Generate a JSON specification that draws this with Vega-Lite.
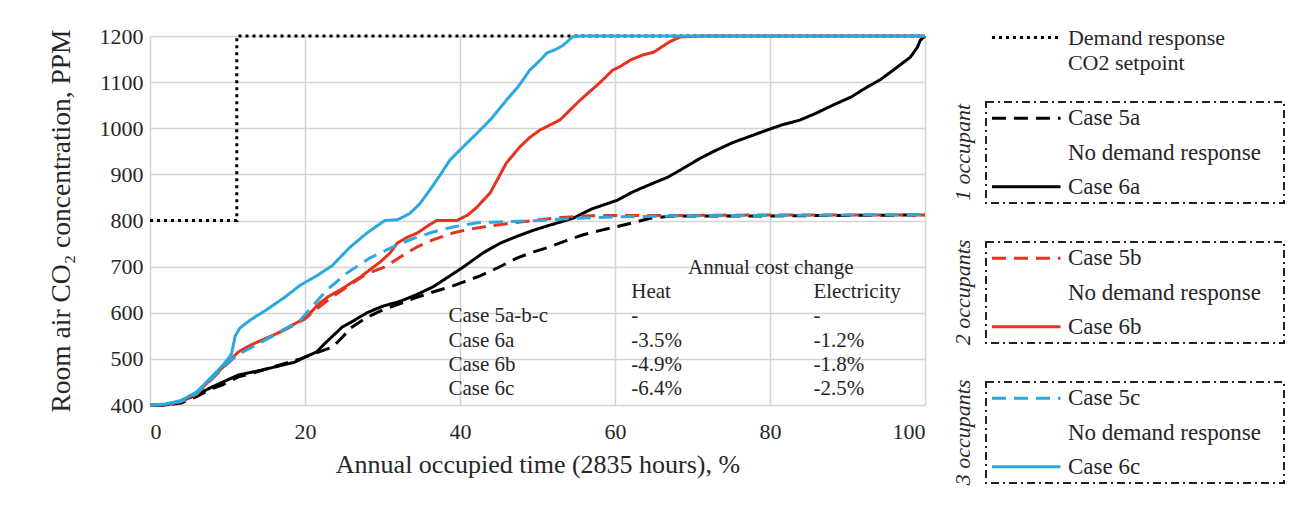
{
  "$schema": "https://vega.github.io/schema/vega-lite/v6.json",
  "background": "white",
  "padding": {"left": 47, "top": 25, "right": 5, "bottom": 5},
  "config": {
    "font": "Times New Roman",
    "view": {"stroke": null},
    "axis": {"labelFont": "Times New Roman", "titleFont": "Times New Roman", "labelFontSize": 22, "titleFontSize": 26, "titleFontWeight": "normal", "labelColor": "#262626", "titleColor": "#262626", "gridColor": "#d4d4d4", "gridWidth": 1.5, "domain": false, "ticks": false},
    "text": {"color": "#262626", "font": "Times New Roman", "fontStyle": "normal", "fontWeight": "normal"},
    "header": {"labelFont": "Times New Roman", "labelFontSize": 22, "labelFontStyle": "italic", "labelAngle": -90, "labelColor": "#262626", "labelPadding": 0, "labelOrient": "left"}
  },
  "datasets": {
    "curves": [
      {"series": "Demand response CO2 setpoint", "x": 0, "y": 800},
      {"series": "Demand response CO2 setpoint", "x": 11.2, "y": 800},
      {"series": "Demand response CO2 setpoint", "x": 11.2, "y": 1200},
      {"series": "Demand response CO2 setpoint", "x": 100, "y": 1200},
      {"series": "Case 5a", "x": 0, "y": 400}, {"series": "Case 5a", "x": 2, "y": 400}, {"series": "Case 5a", "x": 4, "y": 404}, {"series": "Case 5a", "x": 6, "y": 418}, {"series": "Case 5a", "x": 8, "y": 436}, {"series": "Case 5a", "x": 9.3, "y": 443}, {"series": "Case 5a", "x": 11.4, "y": 461}, {"series": "Case 5a", "x": 13, "y": 468}, {"series": "Case 5a", "x": 15, "y": 478}, {"series": "Case 5a", "x": 17, "y": 488}, {"series": "Case 5a", "x": 19.4, "y": 500}, {"series": "Case 5a", "x": 21, "y": 510}, {"series": "Case 5a", "x": 23.6, "y": 526}, {"series": "Case 5a", "x": 25, "y": 550}, {"series": "Case 5a", "x": 25.8, "y": 566}, {"series": "Case 5a", "x": 28, "y": 590}, {"series": "Case 5a", "x": 30, "y": 606}, {"series": "Case 5a", "x": 32.3, "y": 620}, {"series": "Case 5a", "x": 34.5, "y": 634}, {"series": "Case 5a", "x": 36.5, "y": 645}, {"series": "Case 5a", "x": 38.7, "y": 656}, {"series": "Case 5a", "x": 40.5, "y": 667}, {"series": "Case 5a", "x": 42.6, "y": 680}, {"series": "Case 5a", "x": 44.8, "y": 697}, {"series": "Case 5a", "x": 47.4, "y": 719}, {"series": "Case 5a", "x": 49.5, "y": 732}, {"series": "Case 5a", "x": 51.6, "y": 743}, {"series": "Case 5a", "x": 53.8, "y": 757}, {"series": "Case 5a", "x": 55.9, "y": 769}, {"series": "Case 5a", "x": 58, "y": 778}, {"series": "Case 5a", "x": 60.3, "y": 787}, {"series": "Case 5a", "x": 62.5, "y": 796}, {"series": "Case 5a", "x": 64.5, "y": 805}, {"series": "Case 5a", "x": 67, "y": 809}, {"series": "Case 5a", "x": 70, "y": 810}, {"series": "Case 5a", "x": 80, "y": 810}, {"series": "Case 5a", "x": 90, "y": 811}, {"series": "Case 5a", "x": 100, "y": 812},
      {"series": "Case 6a", "x": 0, "y": 400}, {"series": "Case 6a", "x": 2, "y": 400}, {"series": "Case 6a", "x": 3.6, "y": 406}, {"series": "Case 6a", "x": 6, "y": 422}, {"series": "Case 6a", "x": 8, "y": 439}, {"series": "Case 6a", "x": 11.4, "y": 465}, {"series": "Case 6a", "x": 14.5, "y": 476}, {"series": "Case 6a", "x": 18.7, "y": 493}, {"series": "Case 6a", "x": 20, "y": 504}, {"series": "Case 6a", "x": 21.5, "y": 515}, {"series": "Case 6a", "x": 22.6, "y": 534}, {"series": "Case 6a", "x": 24.8, "y": 569}, {"series": "Case 6a", "x": 26.2, "y": 582}, {"series": "Case 6a", "x": 28, "y": 600}, {"series": "Case 6a", "x": 30, "y": 614}, {"series": "Case 6a", "x": 32.3, "y": 625}, {"series": "Case 6a", "x": 34.5, "y": 640}, {"series": "Case 6a", "x": 36.5, "y": 656}, {"series": "Case 6a", "x": 38.7, "y": 680}, {"series": "Case 6a", "x": 40.5, "y": 700}, {"series": "Case 6a", "x": 43, "y": 730}, {"series": "Case 6a", "x": 45.2, "y": 751}, {"series": "Case 6a", "x": 47.4, "y": 766}, {"series": "Case 6a", "x": 49.5, "y": 779}, {"series": "Case 6a", "x": 51.6, "y": 790}, {"series": "Case 6a", "x": 54.6, "y": 805}, {"series": "Case 6a", "x": 57, "y": 825}, {"series": "Case 6a", "x": 60.3, "y": 844}, {"series": "Case 6a", "x": 62.3, "y": 862}, {"series": "Case 6a", "x": 64.5, "y": 878}, {"series": "Case 6a", "x": 66.7, "y": 893}, {"series": "Case 6a", "x": 68.5, "y": 910}, {"series": "Case 6a", "x": 71, "y": 935}, {"series": "Case 6a", "x": 73, "y": 952}, {"series": "Case 6a", "x": 75.2, "y": 969}, {"series": "Case 6a", "x": 77.5, "y": 983}, {"series": "Case 6a", "x": 79.6, "y": 996}, {"series": "Case 6a", "x": 81.5, "y": 1007}, {"series": "Case 6a", "x": 83.9, "y": 1018}, {"series": "Case 6a", "x": 86, "y": 1033}, {"series": "Case 6a", "x": 88.1, "y": 1050}, {"series": "Case 6a", "x": 90.5, "y": 1068}, {"series": "Case 6a", "x": 92.5, "y": 1089}, {"series": "Case 6a", "x": 94.3, "y": 1106}, {"series": "Case 6a", "x": 95.9, "y": 1126}, {"series": "Case 6a", "x": 97, "y": 1140}, {"series": "Case 6a", "x": 98.1, "y": 1154}, {"series": "Case 6a", "x": 99, "y": 1175}, {"series": "Case 6a", "x": 99.4, "y": 1191}, {"series": "Case 6a", "x": 100, "y": 1200},
      {"series": "Case 5b", "x": 0, "y": 400}, {"series": "Case 5b", "x": 2, "y": 401}, {"series": "Case 5b", "x": 4, "y": 407}, {"series": "Case 5b", "x": 6, "y": 423}, {"series": "Case 5b", "x": 7.5, "y": 448}, {"series": "Case 5b", "x": 9.7, "y": 485}, {"series": "Case 5b", "x": 11.4, "y": 512}, {"series": "Case 5b", "x": 13, "y": 528}, {"series": "Case 5b", "x": 15, "y": 543}, {"series": "Case 5b", "x": 16.5, "y": 555}, {"series": "Case 5b", "x": 18, "y": 568}, {"series": "Case 5b", "x": 20, "y": 587}, {"series": "Case 5b", "x": 22, "y": 615}, {"series": "Case 5b", "x": 24, "y": 640}, {"series": "Case 5b", "x": 26.2, "y": 665}, {"series": "Case 5b", "x": 28, "y": 685}, {"series": "Case 5b", "x": 30, "y": 697}, {"series": "Case 5b", "x": 31.5, "y": 712}, {"series": "Case 5b", "x": 32.3, "y": 721}, {"series": "Case 5b", "x": 34.5, "y": 743}, {"series": "Case 5b", "x": 36.5, "y": 758}, {"series": "Case 5b", "x": 39.1, "y": 773}, {"series": "Case 5b", "x": 40.9, "y": 780}, {"series": "Case 5b", "x": 43, "y": 786}, {"series": "Case 5b", "x": 46, "y": 793}, {"series": "Case 5b", "x": 49.4, "y": 800}, {"series": "Case 5b", "x": 52, "y": 805}, {"series": "Case 5b", "x": 55.9, "y": 810}, {"series": "Case 5b", "x": 60, "y": 811}, {"series": "Case 5b", "x": 70, "y": 811}, {"series": "Case 5b", "x": 80, "y": 812}, {"series": "Case 5b", "x": 90, "y": 812}, {"series": "Case 5b", "x": 100, "y": 812},
      {"series": "Case 6b", "x": 0, "y": 400}, {"series": "Case 6b", "x": 2, "y": 401}, {"series": "Case 6b", "x": 4, "y": 408}, {"series": "Case 6b", "x": 6, "y": 425}, {"series": "Case 6b", "x": 7.5, "y": 450}, {"series": "Case 6b", "x": 9.7, "y": 487}, {"series": "Case 6b", "x": 11.4, "y": 515}, {"series": "Case 6b", "x": 13, "y": 530}, {"series": "Case 6b", "x": 15, "y": 545}, {"series": "Case 6b", "x": 16.5, "y": 556}, {"series": "Case 6b", "x": 18, "y": 570}, {"series": "Case 6b", "x": 20, "y": 588}, {"series": "Case 6b", "x": 21.9, "y": 621}, {"series": "Case 6b", "x": 23, "y": 635}, {"series": "Case 6b", "x": 24.5, "y": 649}, {"series": "Case 6b", "x": 27.1, "y": 677}, {"series": "Case 6b", "x": 29.7, "y": 710}, {"series": "Case 6b", "x": 31, "y": 730}, {"series": "Case 6b", "x": 31.9, "y": 751}, {"series": "Case 6b", "x": 33, "y": 762}, {"series": "Case 6b", "x": 34.5, "y": 773}, {"series": "Case 6b", "x": 36, "y": 790}, {"series": "Case 6b", "x": 37, "y": 800}, {"series": "Case 6b", "x": 39.6, "y": 800}, {"series": "Case 6b", "x": 41, "y": 812}, {"series": "Case 6b", "x": 42.2, "y": 829}, {"series": "Case 6b", "x": 43.9, "y": 860}, {"series": "Case 6b", "x": 44.8, "y": 888}, {"series": "Case 6b", "x": 46, "y": 925}, {"series": "Case 6b", "x": 47.7, "y": 959}, {"series": "Case 6b", "x": 49, "y": 980}, {"series": "Case 6b", "x": 50.3, "y": 996}, {"series": "Case 6b", "x": 52.9, "y": 1018}, {"series": "Case 6b", "x": 55.5, "y": 1061}, {"series": "Case 6b", "x": 58, "y": 1098}, {"series": "Case 6b", "x": 59.7, "y": 1126}, {"series": "Case 6b", "x": 60.6, "y": 1133}, {"series": "Case 6b", "x": 62, "y": 1148}, {"series": "Case 6b", "x": 63.6, "y": 1159}, {"series": "Case 6b", "x": 65, "y": 1165}, {"series": "Case 6b", "x": 67, "y": 1187}, {"series": "Case 6b", "x": 68.4, "y": 1198}, {"series": "Case 6b", "x": 71, "y": 1200}, {"series": "Case 6b", "x": 100, "y": 1200},
      {"series": "Case 5c", "x": 0, "y": 400}, {"series": "Case 5c", "x": 2, "y": 401}, {"series": "Case 5c", "x": 4, "y": 408}, {"series": "Case 5c", "x": 6, "y": 425}, {"series": "Case 5c", "x": 7.5, "y": 450}, {"series": "Case 5c", "x": 9.7, "y": 487}, {"series": "Case 5c", "x": 11, "y": 505}, {"series": "Case 5c", "x": 12, "y": 515}, {"series": "Case 5c", "x": 14, "y": 533}, {"series": "Case 5c", "x": 16.5, "y": 556}, {"series": "Case 5c", "x": 18, "y": 570}, {"series": "Case 5c", "x": 19.4, "y": 584}, {"series": "Case 5c", "x": 21, "y": 615}, {"series": "Case 5c", "x": 22.8, "y": 649}, {"series": "Case 5c", "x": 25.4, "y": 686}, {"series": "Case 5c", "x": 28.4, "y": 719}, {"series": "Case 5c", "x": 31, "y": 740}, {"series": "Case 5c", "x": 33.5, "y": 758}, {"series": "Case 5c", "x": 36.5, "y": 775}, {"series": "Case 5c", "x": 39.1, "y": 786}, {"series": "Case 5c", "x": 42.2, "y": 795}, {"series": "Case 5c", "x": 45.2, "y": 797}, {"series": "Case 5c", "x": 50, "y": 800}, {"series": "Case 5c", "x": 55, "y": 805}, {"series": "Case 5c", "x": 60, "y": 808}, {"series": "Case 5c", "x": 70, "y": 810}, {"series": "Case 5c", "x": 80, "y": 811}, {"series": "Case 5c", "x": 90, "y": 812}, {"series": "Case 5c", "x": 100, "y": 813},
      {"series": "Case 6c", "x": 0, "y": 400}, {"series": "Case 6c", "x": 2, "y": 402}, {"series": "Case 6c", "x": 4, "y": 410}, {"series": "Case 6c", "x": 6, "y": 428}, {"series": "Case 6c", "x": 8, "y": 462}, {"series": "Case 6c", "x": 9.5, "y": 488}, {"series": "Case 6c", "x": 10.5, "y": 510}, {"series": "Case 6c", "x": 11, "y": 550}, {"series": "Case 6c", "x": 11.6, "y": 567}, {"series": "Case 6c", "x": 13, "y": 585}, {"series": "Case 6c", "x": 15, "y": 606}, {"series": "Case 6c", "x": 17.5, "y": 635}, {"series": "Case 6c", "x": 19.4, "y": 660}, {"series": "Case 6c", "x": 21.5, "y": 680}, {"series": "Case 6c", "x": 23.5, "y": 702}, {"series": "Case 6c", "x": 25.8, "y": 742}, {"series": "Case 6c", "x": 28, "y": 773}, {"series": "Case 6c", "x": 30.3, "y": 800}, {"series": "Case 6c", "x": 32, "y": 802}, {"series": "Case 6c", "x": 33.5, "y": 815}, {"series": "Case 6c", "x": 34.8, "y": 836}, {"series": "Case 6c", "x": 36.1, "y": 866}, {"series": "Case 6c", "x": 37.5, "y": 900}, {"series": "Case 6c", "x": 38.7, "y": 931}, {"series": "Case 6c", "x": 40, "y": 953}, {"series": "Case 6c", "x": 42.6, "y": 996}, {"series": "Case 6c", "x": 44, "y": 1020}, {"series": "Case 6c", "x": 46, "y": 1061}, {"series": "Case 6c", "x": 47.5, "y": 1090}, {"series": "Case 6c", "x": 49, "y": 1126}, {"series": "Case 6c", "x": 50.5, "y": 1150}, {"series": "Case 6c", "x": 51.2, "y": 1163}, {"series": "Case 6c", "x": 52.5, "y": 1172}, {"series": "Case 6c", "x": 53.3, "y": 1180}, {"series": "Case 6c", "x": 54, "y": 1190}, {"series": "Case 6c", "x": 54.5, "y": 1198}, {"series": "Case 6c", "x": 55.5, "y": 1200}, {"series": "Case 6c", "x": 100, "y": 1200}
    ],
    "costs": [
      {"row": "title", "note": "Annual  cost change"},
      {"row": "header", "heat": "Heat", "electricity": "Electricity"},
      {"row": "Case 5a-b-c", "case": "Case 5a-b-c", "heat": "-", "electricity": "-"},
      {"row": "Case 6a", "case": "Case 6a", "heat": "-3.5%", "electricity": "-1.2%"},
      {"row": "Case 6b", "case": "Case 6b", "heat": "-4.9%", "electricity": "-1.8%"},
      {"row": "Case 6c", "case": "Case 6c", "heat": "-6.4%", "electricity": "-2.5%"}
    ],
    "setpointKey": [
      {"slot": "a", "label": "Demand response", "series": "Demand response CO2 setpoint"},
      {"slot": "b", "label": "CO2 setpoint"}
    ],
    "groupKey": [
      {"grp": "1 occupant", "slot": "a", "label": "Case 5a", "series": "Case 5a"},
      {"grp": "1 occupant", "slot": "b", "label": "No demand response"},
      {"grp": "1 occupant", "slot": "c", "label": "Case 6a", "series": "Case 6a"},
      {"grp": "2 occupants", "slot": "a", "label": "Case 5b", "series": "Case 5b"},
      {"grp": "2 occupants", "slot": "b", "label": "No demand response"},
      {"grp": "2 occupants", "slot": "c", "label": "Case 6b", "series": "Case 6b"},
      {"grp": "3 occupants", "slot": "a", "label": "Case 5c", "series": "Case 5c"},
      {"grp": "3 occupants", "slot": "b", "label": "No demand response"},
      {"grp": "3 occupants", "slot": "c", "label": "Case 6c", "series": "Case 6c"}
    ]
  },
  "spacing": 20,
  "hconcat": [
    {
      "width": 775,
      "height": 369,
      "layer": [
        {
          "data": {"name": "curves"},
          "mark": {"type": "line", "strokeWidth": 3, "strokeCap": "butt"},
          "encoding": {
            "x": {"field": "x", "type": "quantitative", "scale": {"domain": [0, 100], "nice": false}, "axis": {"values": [0, 20, 40, 60, 80, 100], "title": "Annual occupied time (2835 hours), %", "labelPadding": 16, "titlePadding": 9}},
            "y": {"field": "y", "type": "quantitative", "scale": {"domain": [400, 1200], "nice": false, "zero": false}, "axis": {"values": [400, 500, 600, 700, 800, 900, 1000, 1100, 1200], "format": "d", "title": "Room air CO₂ concentration, PPM", "titleFontSize": 27.5, "labelPadding": 7, "titlePadding": 24}},
            "color": {"field": "series", "type": "nominal", "legend": null, "scale": {"domain": ["Demand response CO2 setpoint", "Case 5a", "Case 6a", "Case 5b", "Case 6b", "Case 5c", "Case 6c"], "range": ["#000000", "#000000", "#000000", "#e6321e", "#e6321e", "#2aa9e0", "#2aa9e0"]}},
            "strokeDash": {"field": "series", "type": "nominal", "legend": null, "scale": {"domain": ["Demand response CO2 setpoint", "Case 5a", "Case 6a", "Case 5b", "Case 6b", "Case 5c", "Case 6c"], "range": [[3, 4], [14, 8], [1, 0], [14, 8], [1, 0], [14, 8], [1, 0]]}}
          }
        },
        {
          "data": {"name": "costs"},
          "encoding": {
            "y": {"field": "row", "type": "ordinal", "axis": null, "scale": {"type": "point", "domain": ["r1", "r2", "r3", "r4", "r5", "r6", "r7", "r8", "r9", "title", "header", "Case 5a-b-c", "Case 6a", "Case 6b", "Case 6c"], "padding": 0.62, "align": 0.47}}
          },
          "layer": [
            {
              "transform": [{"filter": "isValid(datum.note)"}],
              "mark": {"type": "text", "align": "center", "baseline": "middle", "fontSize": 21, "font": "Times New Roman", "fontStyle": "normal", "fontWeight": "normal"},
              "encoding": {"x": {"datum": 80.1, "type": "quantitative"}, "text": {"field": "note"}}
            },
            {
              "transform": [{"filter": "isValid(datum.case)"}],
              "mark": {"type": "text", "align": "left", "baseline": "middle", "fontSize": 21, "font": "Times New Roman", "fontStyle": "normal", "fontWeight": "normal"},
              "encoding": {"x": {"datum": 38.5, "type": "quantitative"}, "text": {"field": "case"}}
            },
            {
              "transform": [{"filter": "isValid(datum.heat)"}],
              "mark": {"type": "text", "align": "left", "baseline": "middle", "fontSize": 21, "font": "Times New Roman", "fontStyle": "normal", "fontWeight": "normal"},
              "encoding": {"x": {"datum": 62.1, "type": "quantitative"}, "text": {"field": "heat"}}
            },
            {
              "transform": [{"filter": "isValid(datum.electricity)"}],
              "mark": {"type": "text", "align": "left", "baseline": "middle", "fontSize": 21, "font": "Times New Roman", "fontStyle": "normal", "fontWeight": "normal"},
              "encoding": {"x": {"datum": 85.6, "type": "quantitative"}, "text": {"field": "electricity"}}
            }
          ]
        }
      ],
      "resolve": {"scale": {"y": "independent"}}
    },
    {
      "spacing": 27,
      "vconcat": [
        {
          "data": {"name": "setpointKey"},
          "width": 298,
          "height": 28,
          "layer": [
            {
              "transform": [{"filter": "isValid(datum.series)"}],
              "mark": {"type": "rule", "strokeWidth": 3, "strokeCap": "butt"},
              "encoding": {
                "x": {"datum": 0.02, "type": "quantitative", "scale": {"domain": [0, 1]}, "axis": null},
                "x2": {"datum": 0.25},
                "y": {"field": "slot", "type": "ordinal", "axis": null, "scale": {"type": "point", "domain": ["a", "b"], "padding": 0.06}},
                "color": {"field": "series", "type": "nominal", "legend": null, "scale": {"domain": ["Demand response CO2 setpoint", "Case 5a", "Case 6a", "Case 5b", "Case 6b", "Case 5c", "Case 6c"], "range": ["#000000", "#000000", "#000000", "#e6321e", "#e6321e", "#2aa9e0", "#2aa9e0"]}},
                "strokeDash": {"field": "series", "type": "nominal", "legend": null, "scale": {"domain": ["Demand response CO2 setpoint", "Case 5a", "Case 6a", "Case 5b", "Case 6b", "Case 5c", "Case 6c"], "range": [[3, 4], [14, 8], [1, 0], [14, 8], [1, 0], [14, 8], [1, 0]]}}
              }
            },
            {
              "mark": {"type": "text", "align": "left", "baseline": "middle", "fontSize": 22, "font": "Liberation Serif", "fontStyle": "normal", "fontWeight": "normal"},
              "encoding": {
                "x": {"datum": 0.275, "type": "quantitative"},
                "y": {"field": "slot", "type": "ordinal"},
                "text": {"field": "label"}
              }
            }
          ]
        },
        {
          "data": {"name": "groupKey"},
          "facet": {"row": {"field": "grp", "type": "nominal", "title": null, "header": {"labelAngle": -90, "labelOrient": "left"}}},
          "spacing": 37,
          "spec": {
            "width": 298,
            "height": 101,
            "view": {"stroke": "#222222", "strokeWidth": 2, "strokeDash": [8, 4, 2, 4]},
            "layer": [
              {
                "transform": [{"filter": "isValid(datum.series)"}],
                "mark": {"type": "rule", "strokeWidth": 3, "strokeCap": "butt"},
                "encoding": {
                  "x": {"datum": 0.02, "type": "quantitative", "scale": {"domain": [0, 1]}, "axis": null},
                  "x2": {"datum": 0.25},
                  "y": {"field": "slot", "type": "ordinal", "axis": null, "scale": {"type": "point", "domain": ["a", "b", "c"], "padding": 0.47}},
                  "color": {"field": "series", "type": "nominal", "legend": null, "scale": {"domain": ["Demand response CO2 setpoint", "Case 5a", "Case 6a", "Case 5b", "Case 6b", "Case 5c", "Case 6c"], "range": ["#000000", "#000000", "#000000", "#e6321e", "#e6321e", "#2aa9e0", "#2aa9e0"]}},
                  "strokeDash": {"field": "series", "type": "nominal", "legend": null, "scale": {"domain": ["Demand response CO2 setpoint", "Case 5a", "Case 6a", "Case 5b", "Case 6b", "Case 5c", "Case 6c"], "range": [[3, 4], [14, 8], [1, 0], [14, 8], [1, 0], [14, 8], [1, 0]]}}
                }
              },
              {
                "mark": {"type": "text", "align": "left", "baseline": "middle", "fontSize": 23, "font": "Liberation Serif", "fontStyle": "normal", "fontWeight": "normal"},
                "encoding": {
                  "x": {"datum": 0.275, "type": "quantitative"},
                  "y": {"field": "slot", "type": "ordinal"},
                  "text": {"field": "label"}
                }
              }
            ]
          }
        }
      ]
    }
  ]
}
